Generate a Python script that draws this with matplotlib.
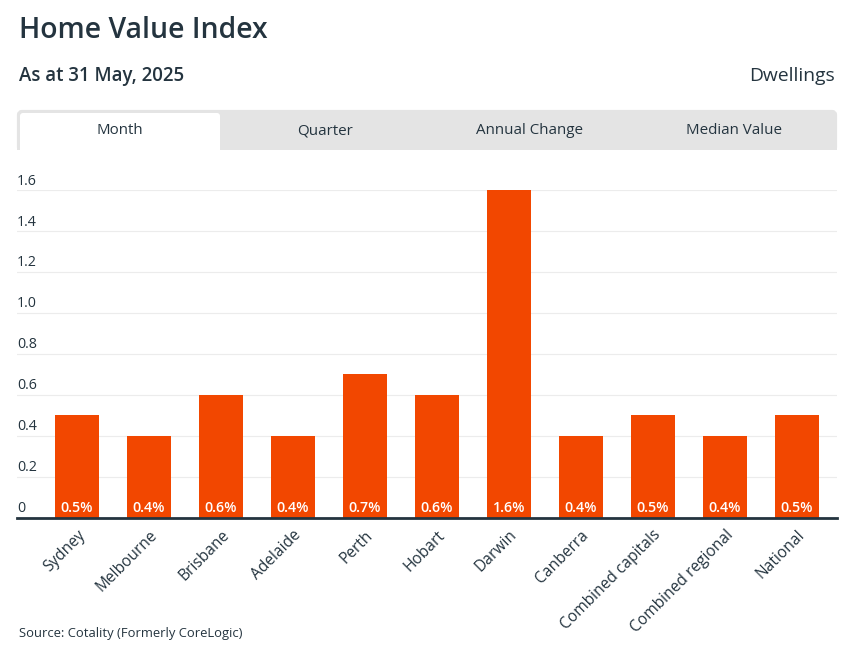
import matplotlib
matplotlib.use("Agg")
import matplotlib.pyplot as plt
from matplotlib.patches import FancyBboxPatch, Rectangle

categories = ["Sydney", "Melbourne", "Brisbane", "Adelaide", "Perth", "Hobart", "Darwin",
              "Canberra", "Combined capitals", "Combined regional", "National"]
values = [0.5, 0.4, 0.6, 0.4, 0.7, 0.6, 1.6, 0.4, 0.5, 0.4, 0.5]
y_ticks = [0, 0.2, 0.4, 0.6, 0.8, 1.0, 1.2, 1.4, 1.6]
y_labels = ["0", "0.2", "0.4", "0.6", "0.8", "1.0", "1.2", "1.4", "1.6"]
tabs = ["Month", "Quarter", "Annual Change", "Median Value"]

W, H = 855, 656
DARK = "#24343f"
ORANGE = "#f24700"
plt.rcParams["font.family"] = ["Open Sans", "DejaVu Sans"]

fig = plt.figure(figsize=(W / 100, H / 100), dpi=100, facecolor="white")

# page-level overlay, in pixel coordinates
ov = fig.add_axes([0, 0, 1, 1], zorder=0)
ov.set_xlim(0, W)
ov.set_ylim(H, 0)
ov.axis("off")
ov.text(19, 30, "Home Value Index", fontsize=20.4, fontweight="semibold", color=DARK, va="center", ha="left")
ov.text(19, 75.5, "As at 31 May, 2025", fontsize=13.4, fontweight="semibold", color=DARK, va="center", ha="left")
ov.text(835, 76, "Dwellings", fontsize=13.9, color=DARK, va="center", ha="right")
ov.add_patch(FancyBboxPatch((19, 112), 816, 38, boxstyle="round,pad=0,rounding_size=3", fc="#e4e4e4", ec="#e4e4e4", lw=3))
ov.add_patch(Rectangle((17, 140), 820, 10, fc="#e4e4e4", ec="none"))
ov.add_patch(FancyBboxPatch((20, 113), 200, 40, boxstyle="round,pad=0,rounding_size=3", fc="white", ec="none"))
ov.add_patch(Rectangle((17, 150), 820, 8, fc="white", ec="none"))
for label, cx in zip(tabs, [119.5, 324.5, 529.5, 734]):
    ov.text(cx, 131, label, fontsize=10.9, color=DARK, va="center", ha="center")
ov.text(19, 634, "Source: Cotality (Formerly CoreLogic)", fontsize=9.35, color=DARK, va="center", ha="left")

# chart
ax = fig.add_axes([17 / W, 1 - 517.5 / H, 820 / W, 327.5 / H], zorder=1)
ax.patch.set_alpha(0)
x = list(range(len(categories)))
ax.bar(x, values, width=44 / 72, color=ORANGE, zorder=2)
ax.set_xlim(-60 / 72, 10 + 40 / 72)
ax.set_ylim(0, 1.6)
for s in ["top", "left", "right"]:
    ax.spines[s].set_visible(False)
ax.spines["bottom"].set_color(DARK)
ax.spines["bottom"].set_linewidth(2)
ax.spines["bottom"].set_zorder(3)
ax.set_yticks(y_ticks)
ax.set_yticklabels([])
ax.tick_params(axis="y", length=0)
ax.grid(axis="y", color="#ececec", lw=0.8, zorder=1)
ax.set_axisbelow(True)
for t, lab in zip(y_ticks, y_labels):
    ax.annotate(lab, (0, t), xycoords=("axes fraction", "data"), xytext=(0, 1.0), textcoords="offset points",
                fontsize=10.3, color=DARK, ha="left", va="bottom")
for xi, v in zip(x, values):
    ax.annotate(f"{v}%", (xi, 0), xytext=(0, 1.5), textcoords="offset points", fontsize=10.3, fontweight="semibold",
                color="white", ha="center", va="bottom", zorder=4)
ax.set_xticks(x)
ax.set_xticklabels(categories, rotation=45, ha="right", rotation_mode="anchor", fontsize=11.2, color=DARK)
ax.tick_params(axis="x", length=0, pad=7)

fig.savefig("out.png", dpi=100)
